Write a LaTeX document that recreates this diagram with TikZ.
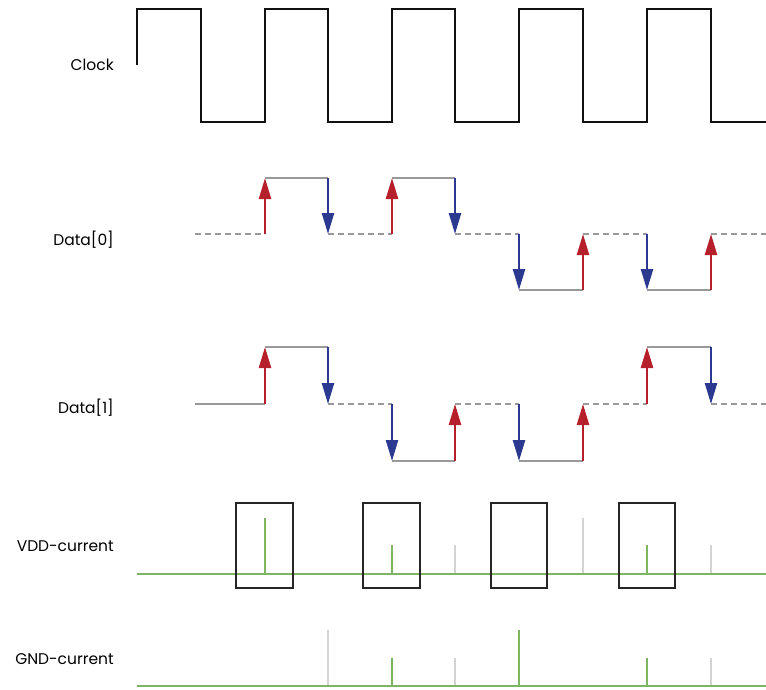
\documentclass[tikz,border=0pt]{standalone}
\usepackage{fontspec}
\setmainfont{Poppins}
\usetikzlibrary{arrows.meta}
\definecolor{clk}{HTML}{111111}
\definecolor{sig}{HTML}{999999}
\definecolor{upred}{HTML}{B5202A}
\definecolor{dnblue}{HTML}{2B3990}
\definecolor{cur}{HTML}{7DB562}
\definecolor{idle}{HTML}{D4D4D4}
\tikzset{
  clockline/.style={draw=clk, line width=2.6pt},
  level/.style={draw=sig, line width=2.4pt},
  dlevel/.style={draw=sig, line width=2.4pt, dash pattern=on 6pt off 4pt},
  rise/.style={draw=upred, line width=2.4pt, -{Triangle[length=21pt,width=12pt]}},
  fall/.style={draw=dnblue, line width=2.4pt, -{Triangle[length=21pt,width=12pt]}},
  spike/.style={draw=cur, line width=2.4pt},
  gspike/.style={draw=idle, line width=2.4pt},
  base/.style={draw=cur, line width=2.6pt},
  frame/.style={draw=black!85, line width=1.3pt},
  lbl/.style={anchor=east, font=\fontsize{15.5}{17}\selectfont, inner sep=0pt}
}
\begin{document}
\begin{tikzpicture}[x=1pt,y=-1pt]
\useasboundingbox (0,0) rectangle (766,689);
% labels
\node[lbl] (lclk) at (114,65) {Clock};
\node[lbl] (ld0) at (114,240) {Data[0]};
\node[lbl] (ld1) at (114,408) {Data[1]};
\node[lbl] (lvdd) at (114,546) {VDD-current};
\node[lbl] (lgnd) at (114,659) {GND-current};
% clock
\draw[clockline] (137,65) -- (137,9) -- (201,9) -- (201,122) -- (265,122) -- (265,9) -- (328,9) -- (328,122) -- (392,122) -- (392,9) -- (455,9) -- (455,122) -- (519,122) -- (519,9) -- (583,9) -- (583,122) -- (647,122) -- (647,9) -- (711,9) -- (711,122) -- (766,122);
% Data[0]: mid 234, high 178, low 290
\draw[dlevel] (195,234) -- (265,234);
\draw[level] (265,178) -- (328,178);
\draw[dlevel] (328,234) -- (392,234);
\draw[level] (392,178) -- (455,178);
\draw[dlevel] (455,234) -- (519,234);
\draw[level] (519,290) -- (583,290);
\draw[dlevel] (583,234) -- (647,234);
\draw[level] (647,290) -- (711,290);
\draw[dlevel] (711,234) -- (766,234);
\draw[rise] (265,234) -- (265,178);
\draw[fall] (328,178) -- (328,234);
\draw[rise] (392,234) -- (392,178);
\draw[fall] (455,178) -- (455,234);
\draw[fall] (519,234) -- (519,290);
\draw[rise] (583,290) -- (583,234);
\draw[fall] (647,234) -- (647,290);
\draw[rise] (711,290) -- (711,234);
% Data[1]: mid 404, high 347, low 461
\draw[level] (195,404) -- (265,404);
\draw[level] (265,347) -- (328,347);
\draw[dlevel] (328,404) -- (392,404);
\draw[level] (392,461) -- (455,461);
\draw[dlevel] (455,404) -- (519,404);
\draw[level] (519,461) -- (583,461);
\draw[dlevel] (583,404) -- (647,404);
\draw[level] (647,347) -- (711,347);
\draw[dlevel] (711,404) -- (766,404);
\draw[rise] (265,404) -- (265,347);
\draw[fall] (328,347) -- (328,404);
\draw[fall] (392,404) -- (392,461);
\draw[rise] (455,461) -- (455,404);
\draw[fall] (519,404) -- (519,461);
\draw[rise] (583,461) -- (583,404);
\draw[rise] (647,404) -- (647,347);
\draw[fall] (711,347) -- (711,404);
% VDD current
\draw[spike] (265,574) -- (265,518);
\draw[spike] (392,574) -- (392,545);
\draw[gspike] (455,574) -- (455,545);
\draw[gspike] (583,574) -- (583,518);
\draw[spike] (647,574) -- (647,545);
\draw[gspike] (711,574) -- (711,545);
\draw[base] (137,574) -- (766,574);
\draw[frame] (236,503) rectangle (293,588);
\draw[frame] (363,503) rectangle (420,588);
\draw[frame] (491,503) rectangle (547,588);
\draw[frame] (619,503) rectangle (675,588);
% GND current
\draw[gspike] (328,686) -- (328,630);
\draw[spike] (392,686) -- (392,658);
\draw[gspike] (455,686) -- (455,658);
\draw[spike] (519,686) -- (519,630);
\draw[spike] (647,686) -- (647,658);
\draw[gspike] (711,686) -- (711,658);
\draw[base] (137,686) -- (766,686);
\end{tikzpicture}
\end{document}
